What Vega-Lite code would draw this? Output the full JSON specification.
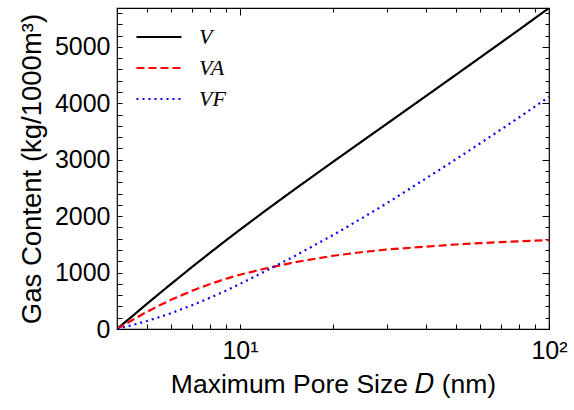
{
  "$schema": "https://vega.github.io/schema/vega-lite/v6.json",
  "width": 432,
  "height": 321,
  "autosize": {"type": "none"},
  "padding": {"left": 117, "top": 8, "right": 25, "bottom": 81},
  "background": "white",
  "config": {
    "view": {"stroke": "black", "strokeWidth": 1.2},
    "font": "Liberation Sans",
    "axis": {
      "domain": false,
      "grid": false,
      "tickColor": "black",
      "tickWidth": 1,
      "labelColor": "black",
      "titleColor": "black",
      "labelFontSize": 25,
      "titleFontSize": 26,
      "titleFontWeight": "normal",
      "labelFont": "Liberation Sans",
      "titleFont": "Liberation Sans"
    },
    "legend": {
      "title": null,
      "orient": "none",
      "legendX": 18,
      "legendY": 19,
      "symbolType": "stroke",
      "symbolSize": 2025,
      "symbolStrokeWidth": 2.2,
      "clipHeight": 20,
      "rowPadding": 9,
      "labelOffset": 16,
      "labelFont": "Liberation Serif",
      "labelFontStyle": "italic",
      "labelFontSize": 22,
      "labelColor": "black"
    }
  },
  "data": {
    "values": [
      {"D": 4, "series": "V", "value": 0},
      {"D": 4.5, "series": "V", "value": 235},
      {"D": 5, "series": "V", "value": 446},
      {"D": 5.5, "series": "V", "value": 634},
      {"D": 6, "series": "V", "value": 804},
      {"D": 7, "series": "V", "value": 1100},
      {"D": 8, "series": "V", "value": 1351},
      {"D": 9, "series": "V", "value": 1569},
      {"D": 10, "series": "V", "value": 1760},
      {"D": 12, "series": "V", "value": 2085},
      {"D": 15, "series": "V", "value": 2473},
      {"D": 20, "series": "V", "value": 2963},
      {"D": 25, "series": "V", "value": 3339},
      {"D": 30, "series": "V", "value": 3645},
      {"D": 40, "series": "V", "value": 4130},
      {"D": 50, "series": "V", "value": 4507},
      {"D": 60, "series": "V", "value": 4816},
      {"D": 70, "series": "V", "value": 5078},
      {"D": 80, "series": "V", "value": 5305},
      {"D": 100, "series": "V", "value": 5690},
      {"D": 4, "series": "VA", "value": 0},
      {"D": 4.5, "series": "VA", "value": 164},
      {"D": 5, "series": "VA", "value": 304},
      {"D": 5.5, "series": "VA", "value": 422},
      {"D": 6, "series": "VA", "value": 521},
      {"D": 7, "series": "VA", "value": 678},
      {"D": 8, "series": "VA", "value": 797},
      {"D": 9, "series": "VA", "value": 890},
      {"D": 10, "series": "VA", "value": 962},
      {"D": 12, "series": "VA", "value": 1068},
      {"D": 15, "series": "VA", "value": 1182},
      {"D": 20, "series": "VA", "value": 1298},
      {"D": 25, "series": "VA", "value": 1365},
      {"D": 30, "series": "VA", "value": 1410},
      {"D": 40, "series": "VA", "value": 1460},
      {"D": 50, "series": "VA", "value": 1498},
      {"D": 60, "series": "VA", "value": 1522},
      {"D": 70, "series": "VA", "value": 1540},
      {"D": 80, "series": "VA", "value": 1555},
      {"D": 100, "series": "VA", "value": 1575},
      {"D": 4, "series": "VF", "value": 0},
      {"D": 4.5, "series": "VF", "value": 71},
      {"D": 5, "series": "VF", "value": 142},
      {"D": 5.5, "series": "VF", "value": 212},
      {"D": 6, "series": "VF", "value": 283},
      {"D": 7, "series": "VF", "value": 422},
      {"D": 8, "series": "VF", "value": 554},
      {"D": 9, "series": "VF", "value": 679},
      {"D": 10, "series": "VF", "value": 798},
      {"D": 12, "series": "VF", "value": 1017},
      {"D": 15, "series": "VF", "value": 1291},
      {"D": 20, "series": "VF", "value": 1665},
      {"D": 25, "series": "VF", "value": 1974},
      {"D": 30, "series": "VF", "value": 2235},
      {"D": 40, "series": "VF", "value": 2670},
      {"D": 50, "series": "VF", "value": 3009},
      {"D": 60, "series": "VF", "value": 3294},
      {"D": 70, "series": "VF", "value": 3538},
      {"D": 80, "series": "VF", "value": 3750},
      {"D": 100, "series": "VF", "value": 4115}
    ]
  },
  "layer": [
    {
      "mark": {"type": "line", "strokeWidth": 2.2, "clip": true},
      "encoding": {
        "x": {
          "field": "D",
          "type": "quantitative",
          "scale": {"type": "log", "domain": [4, 100], "nice": false},
          "axis": {
            "orient": "bottom",
            "values": [4, 5, 6, 7, 8, 9, 10, 20, 30, 40, 50, 60, 70, 80, 90, 100],
            "labelExpr": "datum.value == 10 ? '10¹' : (datum.value == 100 ? '10²' : '')",
            "tickSize": -5,
            "labelPadding": 14,
            "labelFlush": false,
            "labelOverlap": false,
            "title": "Maximum Pore Size 𝐷 (nm)",
            "titleFontSize": 26.5,
            "titlePadding": 8
          }
        },
        "y": {
          "field": "value",
          "type": "quantitative",
          "scale": {"domain": [0, 5690], "nice": false},
          "axis": {
            "orient": "left",
            "values": [0, 200, 400, 600, 800, 1000, 1200, 1400, 1600, 1800, 2000, 2200, 2400, 2600, 2800, 3000, 3200, 3400, 3600, 3800, 4000, 4200, 4400, 4600, 4800, 5000, 5200, 5400, 5600],
            "labelExpr": "datum.value % 1000 == 0 ? datum.label : ''",
            "format": "d",
            "tickSize": -5,
            "labelPadding": 12,
            "labelFlush": false,
            "labelOverlap": false,
            "title": "Gas Content (kg/1000m³)",
            "titleFontSize": 27.5,
            "titlePadding": 8
          }
        },
        "color": {
          "field": "series",
          "type": "nominal",
          "scale": {"domain": ["V", "VA", "VF"], "range": ["#000000", "#ff0000", "#0000ff"]},
          "legend": {}
        },
        "strokeDash": {
          "field": "series",
          "type": "nominal",
          "scale": {"domain": ["V", "VA", "VF"], "range": [[1, 0], [8, 4], [2, 4]]},
          "legend": {}
        }
      }
    },
    {
      "mark": {"type": "point", "opacity": 0},
      "encoding": {
        "x": {
          "field": "D",
          "type": "quantitative",
          "axis": {
            "orient": "top",
            "values": [4, 5, 6, 7, 8, 9, 10, 20, 30, 40, 50, 60, 70, 80, 90, 100],
            "labels": false,
            "title": null,
            "tickSize": {"condition": {"test": "datum.value == 10 || datum.value == 100", "value": -7}, "value": -4}
          }
        },
        "y": {
          "field": "value",
          "type": "quantitative",
          "axis": {
            "orient": "right",
            "values": [0, 200, 400, 600, 800, 1000, 1200, 1400, 1600, 1800, 2000, 2200, 2400, 2600, 2800, 3000, 3200, 3400, 3600, 3800, 4000, 4200, 4400, 4600, 4800, 5000, 5200, 5400, 5600],
            "labels": false,
            "title": null,
            "tickSize": {"condition": {"test": "datum.value % 1000 == 0", "value": -7}, "value": -4}
          }
        }
      }
    }
  ],
  "resolve": {"axis": {"x": "independent", "y": "independent"}}
}
